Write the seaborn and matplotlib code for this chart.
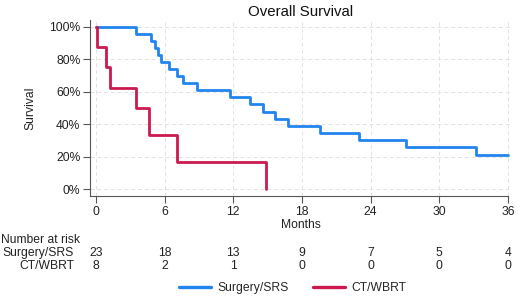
import numpy as np
import pandas as pd
import seaborn as sns
import matplotlib.pyplot as plt
from matplotlib.transforms import blended_transform_factory

# Kaplan-Meier step values (months, survival %)
surgery_t = [0, 3.5, 4.8, 5.2, 5.4, 5.7, 6.4, 7.1, 7.6, 8.8, 11.7, 13.5,
             14.6, 15.6, 16.8, 19.6, 23.0, 27.1, 33.2, 36.0]
surgery_s = [100, 95.7, 91.3, 87.0, 82.6, 78.3, 73.9, 69.6, 65.2, 60.9, 56.5,
             52.2, 47.8, 43.5, 39.1, 34.8, 30.4, 26.1, 21.2, 21.2]
ctwbrt_t = [0, 0.1, 0.87, 1.22, 3.47, 4.63, 7.05, 14.9, 14.9]
ctwbrt_s = [100, 87.5, 75.0, 62.5, 50.0, 33.3, 16.7, 16.7, 0]

groups = ["Surgery/SRS", "CT/WBRT"]
colors = ["#2184ef", "#cc1a4e"]
risk_times = [0, 6, 12, 18, 24, 30, 36]
risk_surgery = [23, 18, 13, 9, 7, 5, 4]
risk_ctwbrt = [8, 2, 1, 0, 0, 0, 0]

df = pd.concat([
    pd.DataFrame({"Months": surgery_t, "Survival": surgery_s, "group": groups[0]}),
    pd.DataFrame({"Months": ctwbrt_t, "Survival": ctwbrt_s, "group": groups[1]}),
], ignore_index=True)

sns.set_style("white")
plt.rcParams["font.family"] = ["Liberation Sans", "DejaVu Sans"]
fs = 8.7

fig = plt.figure(figsize=(5.2, 2.97), dpi=100)
ax = fig.add_axes([90 / 520, 101 / 297, 422 / 520, 176 / 297])

sns.lineplot(data=df, x="Months", y="Survival", hue="group", hue_order=groups,
             palette=colors, drawstyle="steps-post", linewidth=2.0,
             estimator=None, sort=False, ax=ax)

ax.set_xlim(-0.52, 36.35)
ax.set_ylim(-4.3, 104.3)
ax.set_xticks(risk_times)
ax.set_yticks([0, 20, 40, 60, 80, 100])
ax.set_yticklabels(["{}%".format(v) for v in [0, 20, 40, 60, 80, 100]])
ax.grid(True, color="#e2e2e2", linestyle=(0, (4, 3)), linewidth=0.7)
for s in ["top", "right"]:
    ax.spines[s].set_visible(False)
for s in ["left", "bottom"]:
    ax.spines[s].set_color("#555555")
    ax.spines[s].set_linewidth(0.8)
ax.spines["bottom"].set_bounds(-0.52, 36.0)
ax.tick_params(axis="both", length=5, width=0.8, color="#555555",
               labelsize=fs, labelcolor="#222222", pad=2)
ax.tick_params(axis="both", which="both", direction="out", bottom=True, left=True)
ax.set_xlabel("Months", fontsize=fs, color="#222222", labelpad=1)
ax.set_ylabel("Survival", fontsize=fs, color="#222222", labelpad=9)
ax.set_title("Overall Survival", fontsize=10.8, color="#111111", pad=3)

# number at risk table
tr = blended_transform_factory(ax.transData, fig.transFigure)
fig.text(1 / 520, 1 - 240 / 297, "Number at risk", fontsize=fs, va="center", color="#222222")
for row_y, name, vals in [(253, groups[0], risk_surgery), (266, groups[1], risk_ctwbrt)]:
    fig.text(74 / 520, 1 - row_y / 297, name, fontsize=fs, ha="right", va="center", color="#222222")
    for t, v in zip(risk_times, vals):
        ax.text(t, 1 - row_y / 297, str(v), transform=tr, fontsize=fs,
                ha="center", va="center", color="#222222")

sns.move_legend(ax, "center", bbox_to_anchor=(293 / 520, 1 - 288 / 297),
                bbox_transform=fig.transFigure, ncol=2, frameon=False,
                title=None, fontsize=fs, handlelength=2.6, columnspacing=2.0,
                handletextpad=0.6)
for line in ax.get_legend().get_lines():
    line.set_linewidth(2.4)

fig.savefig("out.png", dpi=100)
